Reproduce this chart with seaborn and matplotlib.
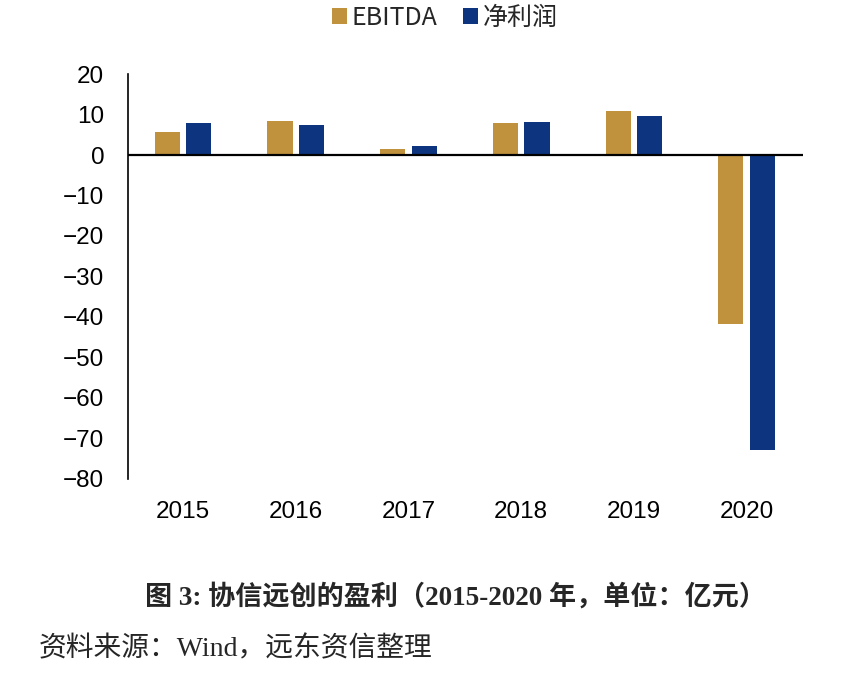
import pandas as pd
import numpy as np
import matplotlib
matplotlib.use("Agg")
import matplotlib.pyplot as plt
import seaborn as sns

# ==============================
# DATA (亿元)
# ==============================
years = ["2015", "2016", "2017", "2018", "2019", "2020"]
ebitda = [5.8, 8.5, 1.6, 7.8, 10.9, -41.7]
net_profit = [7.8, 7.5, 2.3, 8.2, 9.7, -72.8]
series_names = ["EBITDA", "净利润"]
colors = ["#C0923D", "#0D347F"]
yticks = [20, 10, 0, -10, -20, -30, -40, -50, -60, -70, -80]

df = pd.DataFrame({
    "year": years * 2,
    "value": ebitda + net_profit,
    "series": [series_names[0]] * len(years) + [series_names[1]] * len(years),
})

# ==============================
# PLOT
# ==============================
sns.set_style("white")
plt.rcParams["font.family"] = ["Liberation Sans", "Noto Sans CJK SC", "DejaVu Sans"]
plt.rcParams["axes.unicode_minus"] = True

fig = plt.figure(figsize=(8.52, 6.76), dpi=100)
ax = fig.add_axes([0.150, 0.2915, 0.7925, 0.599])

sns.barplot(
    data=df, x="year", y="value", hue="series",
    palette=colors, saturation=1, width=0.56, gap=0.2,
    linewidth=0, ax=ax,
)

ax.axhline(0, color="black", lw=1.6, zorder=3)
ax.set_xlim(-0.49, 5.5)
ax.set_ylim(-80, 20)
ax.set_yticks(yticks)
ax.set_yticklabels([f"{v}".replace("-", "\u2212") for v in yticks])
ax.tick_params(axis="both", length=0, labelsize=17.5, colors="black")
ax.tick_params(axis="x", pad=16)
ax.tick_params(axis="y", pad=17)
ax.set_xlabel("")
ax.set_ylabel("")

for side in ["top", "right", "bottom"]:
    ax.spines[side].set_visible(False)
ax.spines["left"].set_color("black")
ax.spines["left"].set_linewidth(1.2)

ax.legend_.remove()
handles, labels = ax.get_legend_handles_labels()
fig.legend(
    handles, labels, loc="center", bbox_to_anchor=(0.522, 0.974), ncol=2,
    frameon=False, handlelength=0.6, handleheight=0.6, handletextpad=0.2,
    columnspacing=1.0, prop={"family": ["Noto Sans CJK SC"], "size": 18},
)

fig.text(
    0.535, 0.117, "图 3: 协信远创的盈利（2015-2020 年，单位：亿元）",
    ha="center", va="center", fontsize=19.5, fontweight="bold",
    family=["Liberation Serif", "Noto Sans CJK SC"],
)
fig.text(
    0.045, 0.039, "资料来源：Wind，远东资信整理",
    ha="left", va="center", fontsize=20,
    family=["Liberation Serif", "Noto Sans CJK SC"],
)

plt.savefig("out.png", dpi=100)
